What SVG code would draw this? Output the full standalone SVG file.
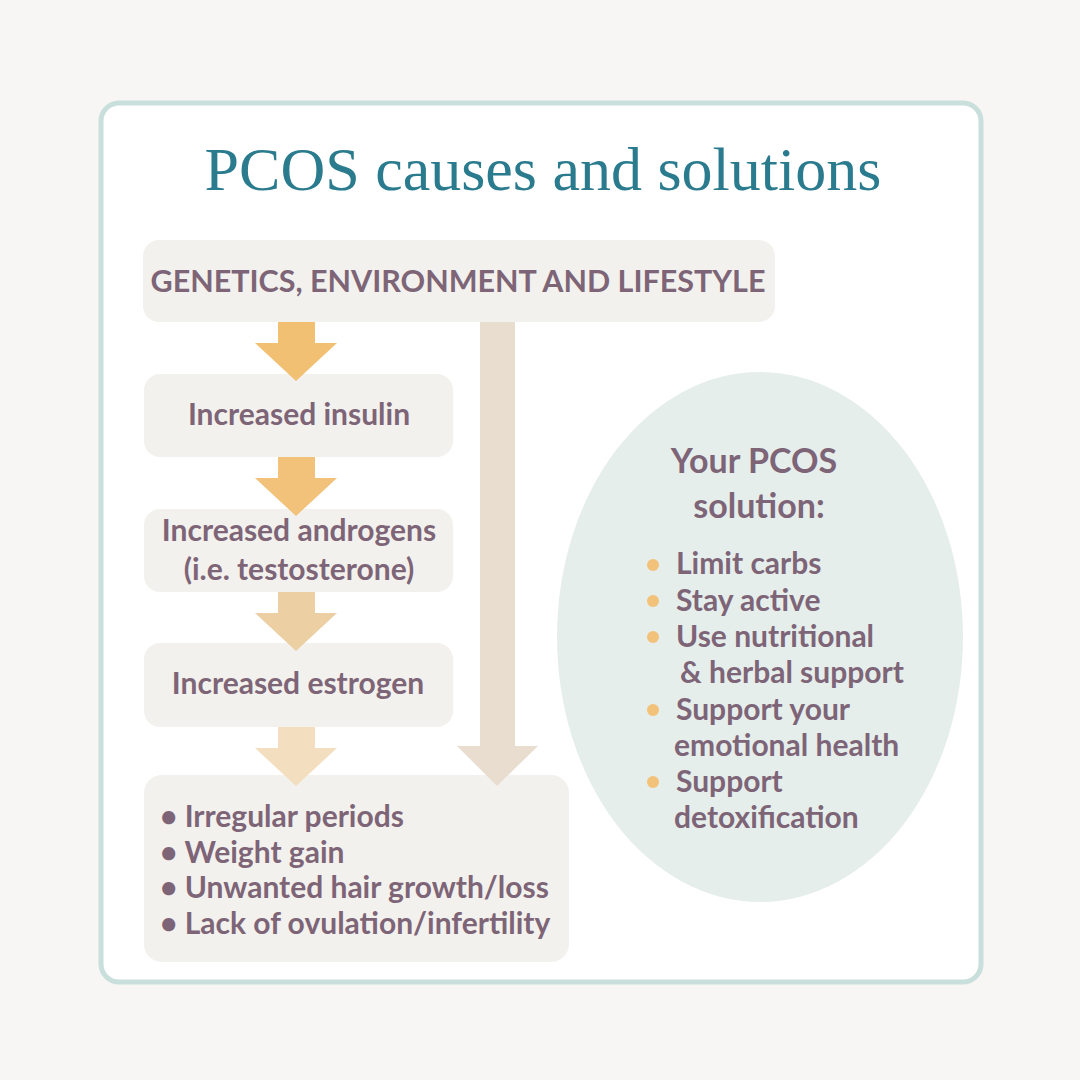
<svg xmlns="http://www.w3.org/2000/svg" width="1080" height="1080" viewBox="0 0 1080 1080">
<style>
.box{fill:#f3f1ed}
.t{font-family:Lato,"Liberation Sans",sans-serif;font-weight:700;fill:#7d6577;font-size:30px}
.c{text-anchor:middle}
.title{font-family:"Liberation Serif","DejaVu Serif",serif;fill:#2a7b8e;font-size:62px;text-anchor:middle}
.dot{fill:#f2c27a}
</style>
<rect x="0" y="0" width="1080" height="1080" fill="#f7f6f4"/>
<rect x="101" y="103" width="880" height="879" rx="18" fill="#ffffff" stroke="#c8dfdb" stroke-width="5"/>
<text class="title" x="543" y="190">PCOS causes and solutions</text>
<g id="genetics">
<rect class="box" x="143" y="240" width="632" height="82" rx="16"/>
<text class="t c" x="458" y="292" style="font-size:30.5px">GENETICS, ENVIRONMENT AND LIFESTYLE</text>
</g>
<g id="insulin">
<rect class="box" x="144" y="374" width="309" height="83" rx="16"/>
<text class="t c" x="299" y="425">Increased insulin</text>
</g>
<g id="androgens">
<rect class="box" x="144" y="509" width="309" height="83" rx="16"/>
<text class="t c" x="299" y="541">Increased androgens</text>
<text class="t c" x="299" y="580">(i.e. testosterone)</text>
</g>
<g id="estrogen">
<rect class="box" x="144" y="643" width="309" height="84" rx="16"/>
<text class="t c" x="298" y="694">Increased estrogen</text>
</g>
<g id="symptoms">
<rect class="box" x="144" y="775" width="425" height="187" rx="18"/>
<text class="t" x="160" y="827">• Irregular periods</text>
<text class="t" x="160" y="863">• Weight gain</text>
<text class="t" x="160" y="898">• Unwanted hair growth/loss</text>
<text class="t" x="160" y="934">• Lack of ovulation/infertility</text>
</g>
<g id="solution">
<ellipse cx="760" cy="637" rx="203" ry="265" fill="#e6eeec"/>
<text class="t c" x="754" y="473" style="font-size:34px">Your PCOS</text>
<text class="t c" x="759" y="518" style="font-size:34px">solution:</text>
<circle class="dot" cx="653" cy="565" r="6"/>
<circle class="dot" cx="653" cy="601" r="6"/>
<circle class="dot" cx="653" cy="637" r="6"/>
<circle class="dot" cx="653" cy="710" r="6"/>
<circle class="dot" cx="653" cy="782" r="6"/>
<text class="t" x="676" y="574">Limit carbs</text>
<text class="t" x="676" y="611">Stay active</text>
<text class="t" x="676" y="647">Use nutritional</text>
<text class="t" x="680" y="683">&amp; herbal support</text>
<text class="t" x="676" y="720">Support your</text>
<text class="t" x="674" y="756">emotional health</text>
<text class="t" x="676" y="792">Support</text>
<text class="t" x="674" y="828">detoxification</text>
</g>
<g id="connectors">
<polygon points="278,322 315,322 315,343 337,343 296,381 255,343 278,343" fill="#f2c072"/>
<polygon points="278,457 315,457 315,478 337,478 296,516 255,478 278,478" fill="#f2c27a"/>
<polygon points="278,592 315,592 315,613 337,613 296,651 255,613 278,613" fill="#ecd0a4"/>
<polygon points="278,727 315,727 315,748 337,748 296,786 255,748 278,748" fill="#f3dfbf"/>
<polygon points="480,322 515,322 515,746 538,746 497,786 457,746 480,746" fill="#e9ddd0"/>
</g>
</svg>
